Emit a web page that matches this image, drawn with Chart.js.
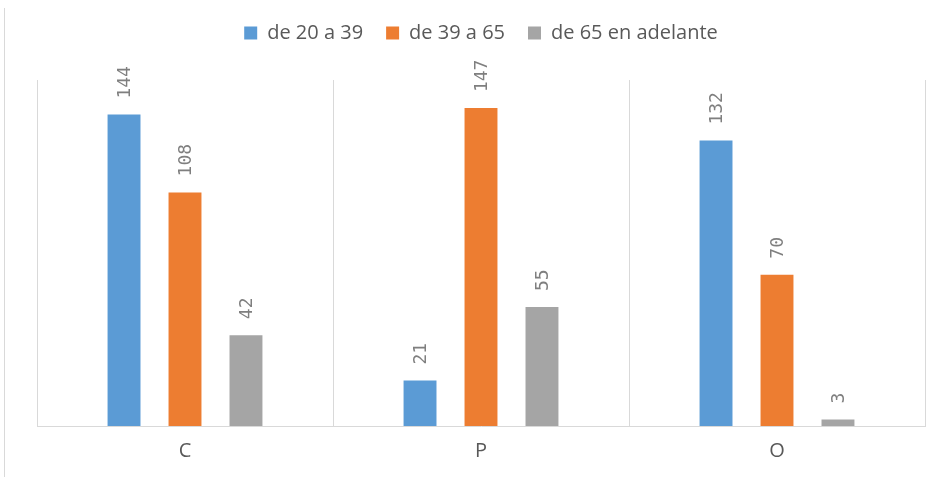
<!DOCTYPE html>
<html>
<head>
<meta charset="utf-8">
<script src="https://cdn.jsdelivr.net/npm/chart.js@4/dist/chart.umd.min.js"></script>
<style>
  body { margin: 0; background: #fff; }
  #wrap { position: relative; width: 941px; height: 477px; }
  #edge { position: absolute; left: 4px; top: 8px; bottom: 0; width: 1px; background: #d9d9d9; }
</style>
</head>
<body>
<div id="wrap">
  <div id="edge"></div>
  <canvas id="myChart" width="941" height="477"></canvas>
</div>
<script>
  const categories = ['C', 'P', 'O'];
  const seriesNames = ['de 20 a 39', 'de 39 a 65', 'de 65 en adelante'];
  const young = [144, 21, 132];
  const middle = [108, 147, 70];
  const older = [42, 55, 3];
  const colors = ['#5b9bd5', '#ed7d31', '#a5a5a5'];

  const legendSpace = {
    id: 'legendSpace',
    beforeInit(chart) {
      const fit = chart.legend.fit;
      chart.legend.fit = function () {
        fit.bind(chart.legend)();
        this.height += 27;
      };
    }
  };

  const barLabels = {
    id: 'barLabels',
    afterDatasetsDraw(chart) {
      const ctx = chart.ctx;
      ctx.save();
      ctx.fillStyle = '#7f7f7f';
      ctx.font = '18px "DejaVu Sans Mono"';
      ctx.textAlign = 'left';
      ctx.textBaseline = 'middle';
      chart.data.datasets.forEach((ds, i) => {
        chart.getDatasetMeta(i).data.forEach((bar, j) => {
          ctx.save();
          ctx.translate(bar.x + 1, bar.y - 16);
          ctx.rotate(-Math.PI / 2);
          ctx.fillText(String(ds.data[j]), 0, 0);
          ctx.restore();
        });
      });
      ctx.restore();
    }
  };

  const ctx = document.getElementById('myChart').getContext('2d');
  const myChart = new Chart(ctx, {
    type: 'bar',
    data: {
      labels: categories,
      datasets: [young, middle, older].map((vals, i) => ({
        label: seriesNames[i],
        data: vals,
        backgroundColor: colors[i],
        borderWidth: 0,
        categoryPercentage: 0.618,
        barPercentage: 0.54
      }))
    },
    options: {
      responsive: false,
      animation: false,
      layout: { padding: { left: 37, right: 16, top: 0, bottom: 1 } },
      plugins: {
        tooltip: { enabled: false },
        legend: {
          position: 'top',
          labels: {
            boxWidth: 13,
            boxHeight: 13,
            padding: 23,
            color: '#595959',
            font: { family: 'Open Sans', size: 20 }
          }
        }
      },
      scales: {
        x: {
          grid: { offset: true, color: '#d9d9d9', tickLength: 0 },
          border: { color: '#d9d9d9' },
          ticks: {
            padding: 13,
            color: '#595959',
            font: { family: 'Open Sans', size: 20 }
          }
        },
        y: { display: false, min: 0, max: 160 }
      }
    },
    plugins: [legendSpace, barLabels]
  });
</script>
</body>
</html>
